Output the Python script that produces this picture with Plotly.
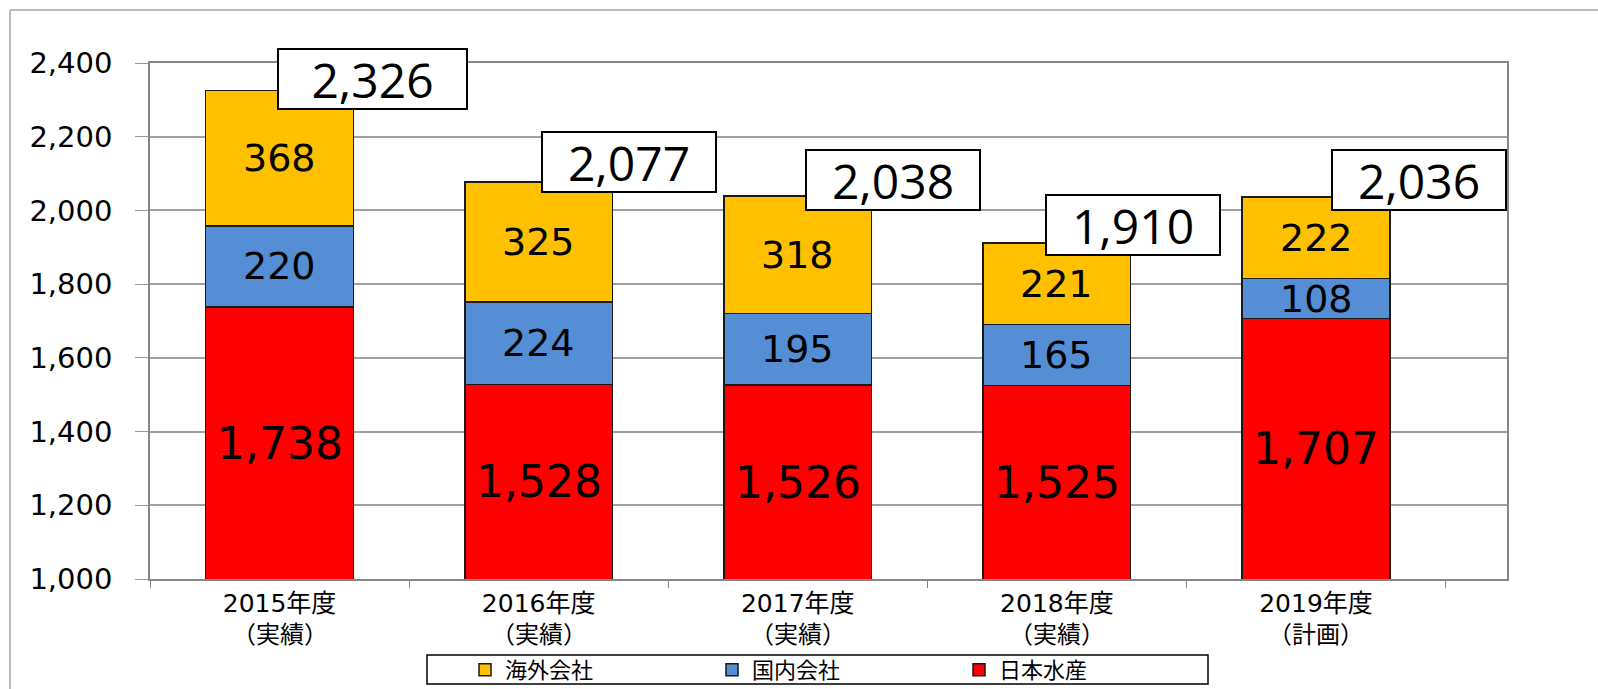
import plotly.graph_objects as go

# Fiscal years and their status
years = ["2015年度", "2016年度", "2017年度", "2018年度", "2019年度"]
status = ["（実績）", "（実績）", "（実績）", "（実績）", "（計画）"]

# Segment values per fiscal year
nissui = [1738, 1528, 1526, 1525, 1707]      # 日本水産
domestic = [220, 224, 195, 165, 108]          # 国内会社
overseas = [368, 325, 318, 221, 222]          # 海外会社
totals = [2326, 2077, 2038, 1910, 2036]

# Placement of the boxed total labels (pixel shift from bar top) and box widths
total_dx = [93, 90, 95, 76, 103]
total_dy = [11, 20, 16, 19, 17]
total_box_w = [185, 170, 170, 170, 170]

W, H = 1598, 689
L, R, T, B = 150, 91, 63, 110
Y_MIN, Y_MAX = 1000, 2400

COL_RED = "#FF0000"
COL_BLUE = "#558ED5"
COL_YELLOW = "#FFC000"
EDGE = dict(color="#1a1a1a", width=1.5)
JP_FONT = "DejaVu Sans, Noto Sans CJK JP"

pw = W - L - R
ph = H - T - B


def px_x(p):
    return (p - L) / pw


def px_y(p):
    return (H - B - p) / ph


fig = go.Figure()
fig.add_trace(go.Bar(name="日本水産", x=years, y=nissui,
                     marker=dict(color=COL_RED, line=EDGE)))
fig.add_trace(go.Bar(name="国内会社", x=years, y=domestic,
                     marker=dict(color=COL_BLUE, line=EDGE)))
fig.add_trace(go.Bar(name="海外会社", x=years, y=overseas,
                     marker=dict(color=COL_YELLOW, line=EDGE)))

annotations = []
for i, cat in enumerate(years):
    # Segment value labels, centred on the visible part of each segment
    segs = [(nissui[i], 0, 44), (domestic[i], nissui[i], 38),
            (overseas[i], nissui[i] + domestic[i], 38)]
    for val, base, size in segs:
        lo = max(base, Y_MIN)
        hi = base + val
        annotations.append(dict(
            x=cat, y=(lo + hi) / 2, xref="x", yref="y",
            text=f"{val:,}", showarrow=False,
            font=dict(family="DejaVu Sans", size=size, color="black"),
            xanchor="center", yanchor="middle"))
    # Boxed total
    annotations.append(dict(
        x=cat, y=totals[i], xref="x", yref="y",
        text=f"{totals[i]:,}", showarrow=False,
        font=dict(family="Open Sans", size=48, color="black"),
        xanchor="center", yanchor="middle",
        xshift=total_dx[i], yshift=total_dy[i],
        bgcolor="white", bordercolor="black", borderwidth=2, borderpad=1,
        width=total_box_w[i], height=56))
    # Second line of the category label
    annotations.append(dict(
        x=cat, y=px_y(635), xref="x", yref="paper",
        text=status[i], showarrow=False, borderpad=0,
        font=dict(family=JP_FONT, size=24, color="black"),
        xanchor="center", yanchor="middle"))

frame = dict(color="#A6A6A6", width=1.5)

fig.update_layout(
    width=W, height=H,
    margin=dict(l=L, r=R, t=T, b=B, pad=0, autoexpand=False),
    paper_bgcolor="white", plot_bgcolor="white",
    barmode="stack", bargap=0.43,
    annotations=annotations,
    shapes=[
        # chart-area frame (top and left edges)
        dict(type="line", xref="paper", yref="paper",
             x0=px_x(10), x1=px_x(1640), y0=px_y(10), y1=px_y(10),
             line=frame, layer="below"),
        dict(type="line", xref="paper", yref="paper",
             x0=px_x(10), x1=px_x(10), y0=px_y(10), y1=px_y(720),
             line=frame, layer="below"),
        # legend frame
        dict(type="rect", xref="paper", yref="paper",
             x0=px_x(427), x1=px_x(1208), y0=px_y(684), y1=px_y(655),
             line=dict(color="black", width=1.5), fillcolor="white", layer="below"),
    ],
    legend=dict(orientation="h", traceorder="reversed",
                x=px_x(465), xanchor="left", y=px_y(670), yanchor="middle",
                borderwidth=0, bgcolor="rgba(0,0,0,0)",
                font=dict(family="Noto Sans CJK JP", size=22, color="black"),
                entrywidth=202, entrywidthmode="pixels",
                itemwidth=30, tracegroupgap=0),
    xaxis=dict(type="category", automargin=False,
               showline=True, linecolor="#868686", linewidth=1.5,
               mirror=True, ticks="outside", tickson="boundaries", ticklen=7,
               tickcolor="#868686", showgrid=False, ticklabelstandoff=1,
               tickfont=dict(family=JP_FONT, size=25, color="black")),
    yaxis=dict(range=[Y_MIN, Y_MAX], dtick=200, tickformat=",d", automargin=False,
               showline=True, linecolor="#868686", linewidth=1.5, mirror=True,
               ticks="outside", ticklen=13, tickcolor="#9a9a9a",
               showgrid=True, gridcolor="#a0a0a0", gridwidth=1.5,
               ticklabelstandoff=17,
               tickfont=dict(family="DejaVu Sans", size=29, color="black")),
)

fig.write_html("out.html")
